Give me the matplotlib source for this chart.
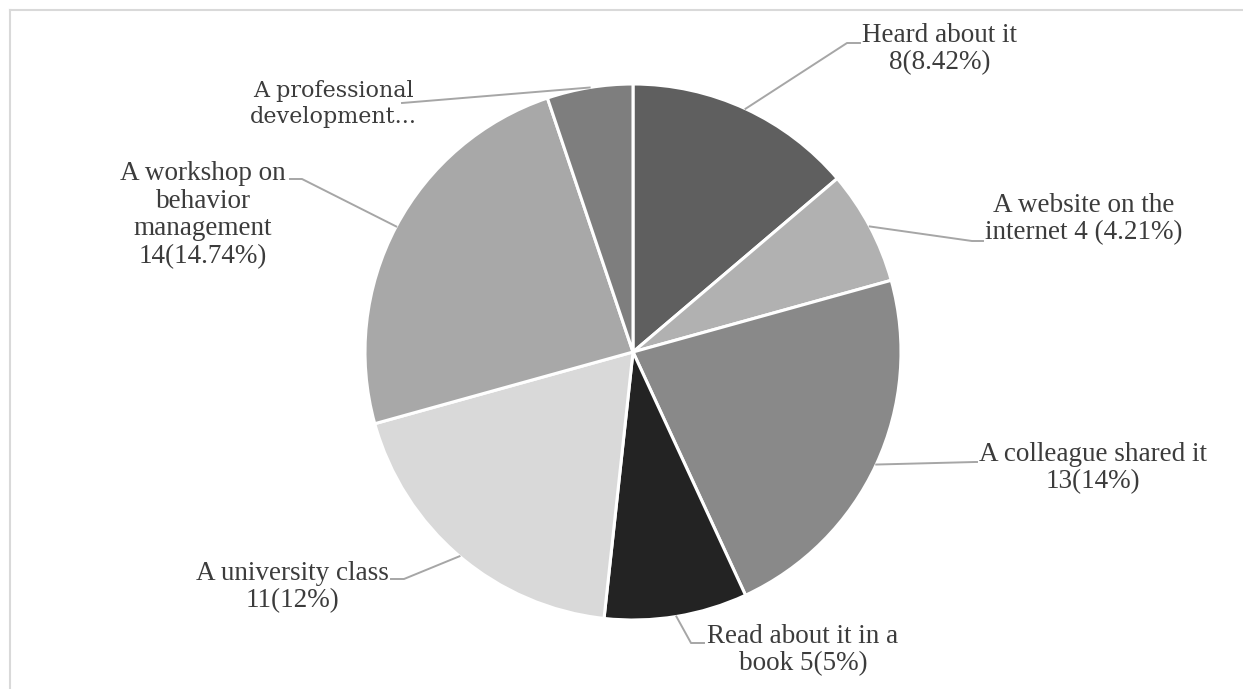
import matplotlib
matplotlib.use("Agg")
import matplotlib.pyplot as plt
import numpy as np
from matplotlib.lines import Line2D

# ---- data ----
categories = ["Heard about it", "A website on the internet", "A colleague shared it",
              "Read about it in a book", "A university class",
              "A workshop on behavior management", "A professional development"]
values = [8, 4, 13, 5, 11, 14, 3]
labels = ["Heard about it\n8(8.42%)",
          "A website on the\ninternet 4 (4.21%)",
          "A colleague shared it\n13(14%)",
          "Read about it in a\nbook 5(5%)",
          "A university class\n11(12%)",
          "A workshop on\nbehavior\nmanagement\n14(14.74%)",
          "A professional\ndevelopment..."]
colors = ["#5f5f5f", "#b1b1b1", "#898989", "#232323", "#d9d9d9", "#a8a8a8", "#7e7e7e"]

# ---- layout (pixel coordinates, y measured from top) ----
W, H = 1243, 689
center = (633, 352)
radius = 268
# (elbow point, line end, text center)
label_layout = [
    ((847, 43), (860, 43), (940, 49)),
    ((972, 241), (983, 241), (1084, 219)),
    ((975, 462), (977, 462), (1093, 468)),
    ((691, 643), (704, 643), (803, 650)),
    ((404, 579), (391, 579), (292, 587)),
    ((302, 179), (290, 179), (203, 215)),
    ((402, 103), (402, 103), (333, 104)),
]

fig = plt.figure(figsize=(W / 100, H / 100), dpi=100)
ax = fig.add_axes([0, 0, 1, 1])

def fy(y):
    return H - y

wedges, _ = ax.pie(values, colors=colors, startangle=90, counterclock=False,
                   radius=radius, center=(center[0], fy(center[1])),
                   wedgeprops=dict(edgecolor="white", linewidth=2.2))
ax.set_xlim(0, W)
ax.set_ylim(0, H)
ax.set_aspect("equal")
ax.axis("off")

line_col = "#a6a6a6"
for i, (w, lab) in enumerate(zip(wedges, labels)):
    mid = np.deg2rad((w.theta1 + w.theta2) / 2)
    sx = center[0] + radius * np.cos(mid)
    sy = fy(center[1]) + radius * np.sin(mid)
    (ex, ey), (tx, ty), (cx, cy) = label_layout[i]
    ax.add_line(Line2D([sx, ex, tx], [sy, fy(ey), fy(ty)], color=line_col, lw=1.4, zorder=1))
    if i == 6:
        ax.text(cx, fy(cy), lab, ha="center", va="center", multialignment="center",
                fontsize=16, family="DejaVu Serif", color="#3c3c3c", linespacing=1.2)
    else:
        ax.text(cx, fy(cy), lab, ha="center", va="center", multialignment="center",
                fontsize=19.5, family="Liberation Serif", color="#3c3c3c", linespacing=1.15)

# frame
ax.add_line(Line2D([10, W], [fy(10), fy(10)], color="#d9d9d9", lw=1.5, clip_on=False))
ax.add_line(Line2D([10, 10], [0, fy(10)], color="#d9d9d9", lw=1.5, clip_on=False))

fig.savefig("out.png", dpi=100, facecolor="white")
